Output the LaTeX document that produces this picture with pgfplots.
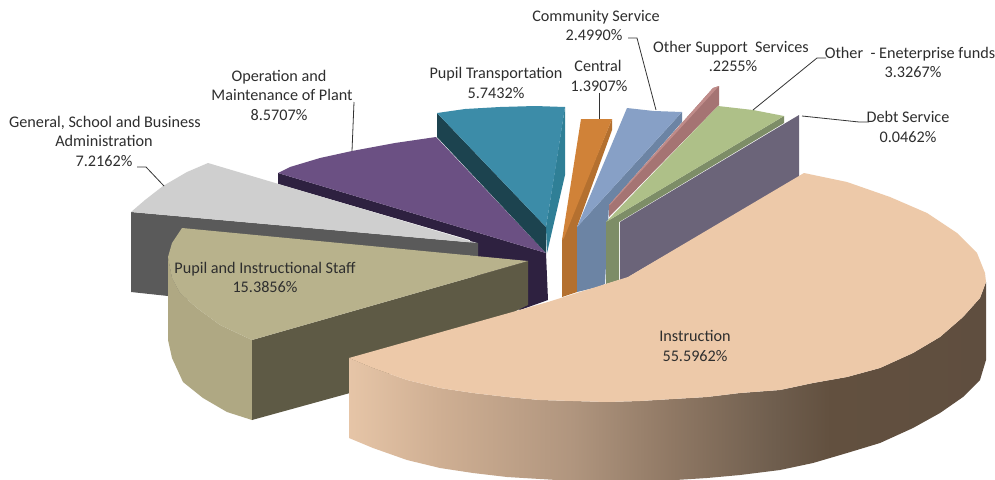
\documentclass[border=0pt]{standalone}
\usepackage{fontspec}
\setmainfont{Carlito}
\usepackage{pgfplots}
\pgfplotsset{compat=1.18}
\definecolor{instrtop}{HTML}{EDC9A9}
\definecolor{tantop}{HTML}{B8B28C}
\definecolor{tancurve}{HTML}{AFA883}
\definecolor{tandark}{HTML}{5E5A45}
\definecolor{greytop}{HTML}{CFCFCF}
\definecolor{greydark}{HTML}{5A5A5A}
\definecolor{purptop}{HTML}{6B5083}
\definecolor{purpdark}{HTML}{2E2140}
\definecolor{tealtop}{HTML}{3C8CA8}
\definecolor{tealdark}{HTML}{1C434F}
\definecolor{tealside}{HTML}{2F7F96}
\definecolor{orgtop}{HTML}{D08238}
\definecolor{orgside}{HTML}{B4702F}
\definecolor{bluetop}{HTML}{87A0C6}
\definecolor{blueside}{HTML}{6C84A4}
\definecolor{pinktop}{HTML}{C08C8A}
\definecolor{pinkside}{HTML}{A57473}
\definecolor{greentop}{HTML}{AEC088}
\definecolor{greenside}{HTML}{7D8D67}
\definecolor{debt}{HTML}{6B6479}
\definecolor{leader}{HTML}{333333}
\definecolor{sa}{HTML}{E6C5A7}
\definecolor{sb}{HTML}{CFAF93}
\definecolor{sc}{HTML}{B0957E}
\definecolor{sd}{HTML}{8F7864}
\definecolor{se}{HTML}{6F5E4E}
\definecolor{sf}{HTML}{62503F}
\definecolor{sg}{HTML}{5F4E3F}
\pgfdeclarehorizontalshading{instrside}{100bp}{
  color(0bp)=(sa); color(25bp)=(sa); color(32bp)=(sb);
  color(42.6bp)=(sc); color(50.4bp)=(sd); color(58.3bp)=(se);
  color(62.8bp)=(sf); color(75bp)=(sg); color(100bp)=(sg)}
\pgfplotsset{
  face/.style={draw=none,fill=#1},
  lead/.style={draw=leader,line width=0.8pt}
}
\newcommand{\lab}[3]{\node[anchor=mid,inner sep=0pt,yshift=-3pt,text=black!82,font=\fontsize{16.2}{18}\selectfont] at (axis cs:#1,#2) {#3};}
\begin{document}
\begin{tikzpicture}
\begin{axis}[
  hide axis, scale only axis, width=995pt, height=479pt,
  xmin=0, xmax=995, ymin=0, ymax=479, y dir=reverse
]
% canvas
\addplot[face=white] coordinates {(0,0) (995,0) (995,479) (0,479)} --cycle;

% Operation and Maintenance of Plant
\addplot[face=purpdark] coordinates {(278,173) (546,253) (548,300) (520,310) (470,270) (470,240) (278,184)} --cycle;
\addplot[face=purptop] coordinates {(278,173) (290,167) (320,158) (352,151) (395,143) (436,137) (546,253)} --cycle;

% Pupil Transportation
\addplot[face=tealside] coordinates {(565,107) (565,175) (547,253) (546,227)} --cycle;
\addplot[face=tealdark] coordinates {(437,113) (437,137) (546,253) (546,227)} --cycle;
\addplot[face=tealtop] coordinates {(437,113) (465,109) (500,107) (535,106) (565,107) (556,165) (546,227)} --cycle;

% General, School and Business Administration
\addplot[face=greydark] coordinates {(131,212) (478,243) (478,256) (300,250) (190,300) (168,296) (131,292)} --cycle;
\addplot[face=greytop] coordinates {(131,212) (145,200) (163,186) (187,172) (208,163) (477,243)} --cycle;

% Pupil and Instructional Staff
\addplot[face=tancurve] coordinates {(168,257) (168,340) (172,358) (183,382) (203,398) (227,412) (252,420) (252,340) (220,325) (197,308) (180,293) (172,278)} --cycle;
\addplot[face=tandark] coordinates {(252,340) (528,261) (528,305) (350,393) (252,420)} --cycle;
\addplot[face=tantop] coordinates {(182,228) (172,243) (168,257) (172,278) (180,293) (197,308) (220,325) (252,340) (528,261)} --cycle;

% Central
\addplot[face=orgside] coordinates {(612,119) (612,130) (577,227) (577,292) (562,297) (562,240)} --cycle;
\addplot[face=orgtop] coordinates {(581,119) (612,119) (564,238) (562,240)} --cycle;

% Community Service
\addplot[face=blueside] coordinates {(682,112) (682,122) (609,205) (605,284) (598,287) (577,292) (577,227)} --cycle;
\addplot[face=bluetop] coordinates {(627,108) (654,111) (682,112) (577,227)} --cycle;

% Other Support Services
\addplot[face=pinkside] coordinates {(609,205) (713,88) (719,86) (719,105) (609,217)} --cycle;
\addplot[face=pinktop] coordinates {(609,205) (713,88) (719,86) (610,205)} --cycle;

% Other - Eneterprise funds
\addplot[face=greenside] coordinates {(606,222) (784,116) (784,123) (619,222) (619,280) (606,284)} --cycle;
\addplot[face=greentop] coordinates {(606,222) (718,106) (753,110) (784,116)} --cycle;

% Debt Service
\addplot[face=debt] coordinates {(620,222) (799,115) (799,178) (640,270) (620,282)} --cycle;

% Instruction
\addplot[draw=none,shading=instrside] coordinates {(349,358) (373,368) (407,380) (440,388) (473,393) (507,397) (540,400) (573,401) (607,402) (640,401) (673,399) (707,397) (740,393) (780,390) (813,383) (847,377) (880,368) (913,353) (940,337) (963,317) (980,298) (986,282) (986,360) (980,380) (963,397) (940,413) (913,428) (880,443) (847,453) (813,463) (780,470) (740,475) (707,478) (660,481) (607,482) (573,481) (540,479) (507,477) (473,473) (440,468) (407,460) (373,448) (349,438)} --cycle;
\addplot[face=instrtop] coordinates {(349,358) (548,302) (628,277) (804,173) (847,182) (890,197) (927,213) (957,233) (977,253) (985,273) (986,282) (980,298) (963,317) (940,337) (913,353) (880,368) (847,377) (813,383) (780,390) (740,393) (707,397) (673,399) (640,401) (607,402) (573,401) (540,400) (507,397) (473,393) (440,388) (407,380) (373,368)} --cycle;

% leader lines
\addplot[lead] coordinates {(628,38) (637,38) (656,110)};
\addplot[lead] coordinates {(599,93) (599,119)};
\addplot[lead] coordinates {(826,58) (817,58) (753,110)};
\addplot[lead] coordinates {(802,116) (859,122) (869,122)};
\addplot[lead] coordinates {(354,102) (352,151)};
\addplot[lead] coordinates {(137,167) (146,167) (164,186)};

% labels
\lab{596}{16}{Community Service}
\lab{594}{35}{2.4990\%}
\lab{731}{47}{Other Support\ \ Services}
\lab{733}{66}{.2255\%}
\lab{910}{53}{Other \ - Eneterprise funds}
\lab{913}{72}{3.3267\%}
\lab{598}{66}{Central}
\lab{599}{86}{1.3907\%}
\lab{496}{73}{Pupil Transportation}
\lab{496}{93}{5.7432\%}
\lab{908}{117}{Debt Service}
\lab{908}{137}{0.0462\%}
\lab{279}{76}{Operation and}
\lab{282}{95}{Maintenance of Plant}
\lab{279}{115}{8.5707\%}
\lab{105}{122}{General, School and Business}
\lab{104}{141}{Administration}
\lab{104}{161}{7.2162\%}
\lab{265}{268}{Pupil and Instructional Staff}
\lab{265}{287}{15.3856\%}
\lab{695}{336}{Instruction}
\lab{695}{356}{55.5962\%}
\end{axis}
\end{tikzpicture}
\end{document}
